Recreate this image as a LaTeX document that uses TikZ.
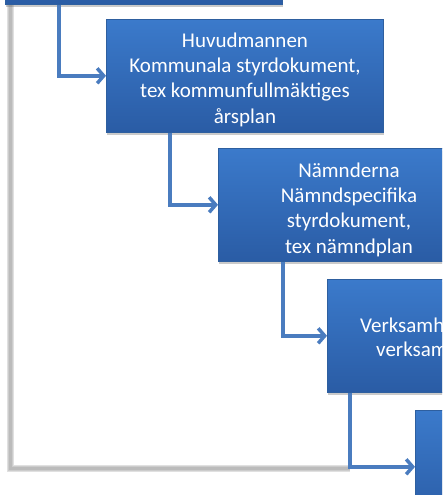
\documentclass[tikz,border=0pt]{standalone}
\usepackage{fontspec}
\setmainfont{Carlito}
\usetikzlibrary{arrows.meta,shadows}
\definecolor{boxtop}{HTML}{3B7ACB}
\definecolor{boxbot}{HTML}{2A5CA5}
\definecolor{boxline}{HTML}{2E5F9F}
\definecolor{conncol}{HTML}{4A7CBF}
\definecolor{greycore}{HTML}{BBBBBB}
\tikzset{
  stepbox/.style={draw=boxline, line width=0.6pt, top color=boxtop, bottom color=boxbot,
    minimum width=277pt, minimum height=113pt, anchor=north west, inner sep=0pt,
    drop shadow={shadow xshift=1pt, shadow yshift=-3pt, opacity=0.35, fill=black!60}},
  boxtext/.style={text=white, font=\fontsize{21}{25.3}\selectfont, align=center, inner sep=0pt},
  conn/.style={draw=conncol, line width=3.5pt, line join=miter,
    -{Straight Barb[length=6.5pt,width=15pt]}},
  greyglow/.style={draw=black!12, line width=7pt},
  greyglowb/.style={draw=black!20, line width=5pt},
  greyret/.style={draw=greycore, line width=3pt}
}
\begin{document}
\begin{tikzpicture}[x=1pt,y=-1pt]
\useasboundingbox (0,0) rectangle (442,495);
\clip (0,0) rectangle (442,495);
% return line
\coordinate (gtop) at (10,0);
\coordinate (gend) at (350,468);
\draw[greyglow] (gtop) |- (gend);
\draw[greyglowb] (gtop) |- (gend);
\draw[greyret] (gtop) |- (gend);
% boxes
\node[stepbox] (b1) at (5,-109) {};
\node[stepbox] (b2) at (106,19) {};
\node[stepbox] (b3) at (218,148) {};
\node[stepbox] (b4) at (327,279) {};
\node[stepbox] (b5) at (415,410) {};
% texts
\node[boxtext, anchor=base] (t2) at (245,123) {Huvudmannen\\Kommunala styrdokument,\\tex kommunfullmäktiges\\årsplan};
\node[boxtext, anchor=base] (t3) at (349,253) {Nämnderna\\Nämndspecifika\\styrdokument,\\tex nämndplan};
\node[boxtext, anchor=base west] (t4a) at (360,332) {Verksamh};
\node[boxtext, anchor=base west] (t4b) at (376,356) {verksam};
% connectors
\draw[conn] (b1.south west) ++(54,0) |- (b2.west);
\draw[conn] (b2.south west) ++(64,0) |- (b3.west);
\draw[conn] (b3.south west) ++(65,0) |- (b4.west);
\draw[conn] (b4.south west) ++(23,0) |- (b5.west);
\end{tikzpicture}
\end{document}
